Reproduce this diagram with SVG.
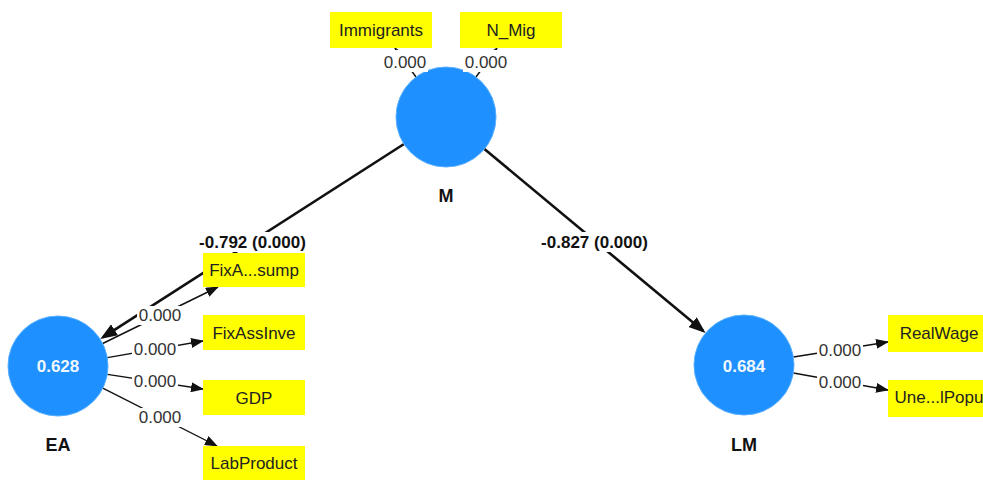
<svg xmlns="http://www.w3.org/2000/svg" width="983" height="480" viewBox="0 0 983 480">
<style>
text{font-family:"Liberation Sans",Arial,sans-serif}
.box{fill:#ffff00}
.bt{font-size:17px;fill:#222;text-anchor:middle}
.lv{fill:#1e90ff;stroke:#5aafff;stroke-width:1}
.val{font-size:17px;font-weight:bold;fill:#f0f8ff;text-anchor:middle}
.name{font-size:18px;font-weight:bold;fill:#111;text-anchor:middle}
.thin{stroke:#111;stroke-width:1.4;fill:none;marker-end:url(#ah)}
.thick{stroke:#111;stroke-width:2.6;fill:none;marker-end:url(#ahb)}
.lbg{fill:#fff}
.lt{font-size:17px;fill:#333;text-anchor:middle}
.pt{font-size:17px;font-weight:bold;fill:#111;text-anchor:middle}
</style>
<defs>
<marker id="ah" markerUnits="userSpaceOnUse" markerWidth="13" markerHeight="10" refX="12" refY="5" orient="auto"><path d="M0,0 L13,5 L0,10 z" fill="#111"/></marker>
<marker id="ahb" markerUnits="userSpaceOnUse" markerWidth="17" markerHeight="13" refX="14" refY="6.5" orient="auto"><path d="M0,0 L17,6.5 L0,13 z" fill="#111"/></marker>
</defs>
<rect width="983" height="480" fill="#fff"/>
<g id="connectors">
<line class="thick" x1="404" y1="144" x2="102.8" y2="337.4"/>
<line class="thick" x1="484.4" y1="149" x2="703.3" y2="331.1"/>
<line class="thin" x1="416" y1="77" x2="395" y2="48"/>
<line class="thin" x1="476" y1="77" x2="497" y2="48"/>
<line class="thin" x1="102.7" y1="343.5" x2="218" y2="287"/>
<line class="thin" x1="107.3" y1="357.6" x2="203" y2="341"/>
<line class="thin" x1="107.4" y1="374.4" x2="203" y2="389"/>
<line class="thin" x1="102.8" y1="388.2" x2="217" y2="446"/>
<line class="thin" x1="793.4" y1="357" x2="888" y2="342"/>
<line class="thin" x1="793.4" y1="373" x2="888" y2="390"/>
</g>
<g id="node-Immigrants"><rect class="box" x="330" y="12" width="102" height="36"/><text class="bt" x="381" y="36">Immigrants</text></g>
<g id="node-N_Mig"><rect class="box" x="460" y="12" width="102" height="36"/><text class="bt" x="511" y="36">N_Mig</text></g>
<g id="node-FixAsump"><rect class="box" x="203" y="253" width="102" height="34"/><text class="bt" x="254" y="276">FixA...sump</text></g>
<g id="node-FixAssInve"><rect class="box" x="203" y="315" width="102" height="35"/><text class="bt" x="254" y="339">FixAssInve</text></g>
<g id="node-GDP"><rect class="box" x="203" y="380" width="102" height="35"/><text class="bt" x="254" y="404">GDP</text></g>
<g id="node-LabProduct"><rect class="box" x="203" y="446" width="102" height="35"/><text class="bt" x="254" y="469">LabProduct</text></g>
<g id="node-RealWage"><rect class="box" x="888" y="315" width="102" height="37"/><text class="bt" x="939" y="339">RealWage</text></g>
<g id="node-UnelPopu"><rect class="box" x="888" y="380" width="102" height="37"/><text class="bt" x="939" y="403">Une...lPopu</text></g>
<g id="node-M"><circle class="lv" cx="446" cy="117" r="50"/><text class="name" x="446" y="202">M</text></g>
<g id="node-EA"><circle class="lv" cx="58" cy="366" r="50"/><text class="val" x="58" y="372">0.628</text><text class="name" x="58" y="451">EA</text></g>
<g id="node-LM"><circle class="lv" cx="744" cy="365" r="50"/><text class="val" x="744" y="372">0.684</text><text class="name" x="744" y="451">LM</text></g>
<g id="labels">
<rect class="lbg" x="382" y="50" width="46" height="22"/><text class="lt" x="405" y="68">0.000</text>
<rect class="lbg" x="463" y="50" width="46" height="22"/><text class="lt" x="486" y="68">0.000</text>
<rect class="lbg" x="137" y="306" width="46" height="19"/><text class="lt" x="160" y="321">0.000</text>
<rect class="lbg" x="132" y="340" width="46" height="19"/><text class="lt" x="155" y="355">0.000</text>
<rect class="lbg" x="132" y="372" width="46" height="19"/><text class="lt" x="155" y="387">0.000</text>
<rect class="lbg" x="137" y="408" width="46" height="19"/><text class="lt" x="160" y="423">0.000</text>
<rect class="lbg" x="817" y="341" width="46" height="19"/><text class="lt" x="840" y="356">0.000</text>
<rect class="lbg" x="817" y="373" width="46" height="19"/><text class="lt" x="840" y="388">0.000</text>
<rect class="lbg" x="197" y="232" width="111" height="20"/><text class="pt" x="252.5" y="248">-0.792 (0.000)</text>
<rect class="lbg" x="539" y="232" width="111" height="20"/><text class="pt" x="594.5" y="248">-0.827 (0.000)</text>
</g>
</svg>
